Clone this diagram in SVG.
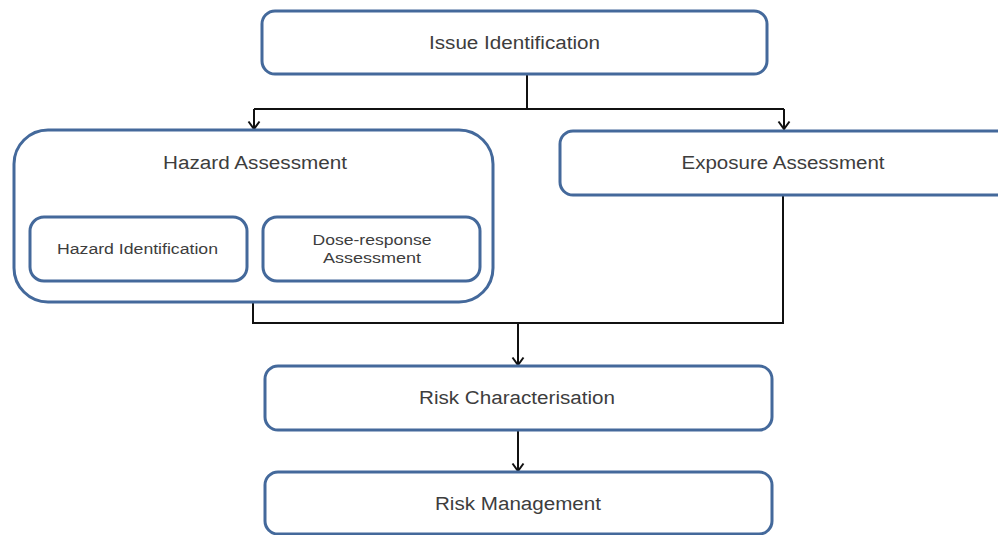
<svg xmlns="http://www.w3.org/2000/svg" width="998" height="535" viewBox="0 0 998 535">
  <defs>
    <style>
      .box { fill: #ffffff; stroke: #44699b; stroke-width: 3; }
      .lbl { font-family: "Liberation Sans", Arial, sans-serif; fill: #3d3d3d; text-anchor: middle; }
      .big { font-size: 18px; }
      .small { font-size: 15.5px; }
      .wire { fill: none; stroke: #111111; stroke-width: 2; }
    </style>
    <!-- open chevron arrowhead, drawn along the +x axis so orient="auto" turns it with the line -->
    <marker id="chev" markerUnits="userSpaceOnUse" markerWidth="12" markerHeight="14" viewBox="-10 -7 12 14" refX="0" refY="0" orient="auto" overflow="visible">
      <path d="M-7.5,-5.5 L0,0 L-7.5,5.5" fill="none" stroke="#111111" stroke-width="2"/>
    </marker>
  </defs>
  <rect width="998" height="535" fill="#ffffff"/>

  <!-- connectors -->
  <g id="connectors">
    <!-- issue identification splits into the two assessments -->
    <path class="wire" d="M527,74 V109"/>
    <path class="wire" d="M254,109 H784"/>
    <path class="wire" d="M254,109 V129" marker-end="url(#chev)"/>
    <path class="wire" d="M784,109 V129" marker-end="url(#chev)"/>
    <!-- inside hazard assessment -->
    <path class="wire" d="M252,175 V200"/>
    <path class="wire" d="M113,200 H381"/>
    <path class="wire" d="M113,200 V215" marker-end="url(#chev)"/>
    <path class="wire" d="M381,200 V215" marker-end="url(#chev)"/>
    <!-- both assessments merge into risk characterisation -->
    <path class="wire" d="M253,302 V323 H783 V195"/>
    <path class="wire" d="M518,323 V365" marker-end="url(#chev)"/>
    <path class="wire" d="M518,430 V471" marker-end="url(#chev)"/>
  </g>

  <g id="issue-identification">
    <rect class="box" x="262" y="11" width="505" height="63" rx="13"/>
    <text class="lbl big" x="514.5" y="49" textLength="171" lengthAdjust="spacingAndGlyphs">Issue Identification</text>
  </g>

  <g id="hazard-assessment">
    <rect class="box" x="14" y="130" width="479" height="172" rx="34"/>
    <text class="lbl big" x="255" y="169" textLength="184" lengthAdjust="spacingAndGlyphs">Hazard Assessment</text>
  </g>

  <g id="hazard-identification">
    <rect class="box" x="30" y="217" width="217" height="64" rx="14"/>
    <text class="lbl small" x="137.5" y="254" textLength="161" lengthAdjust="spacingAndGlyphs">Hazard Identification</text>
  </g>

  <g id="dose-response">
    <rect class="box" x="263" y="217" width="217" height="64" rx="14"/>
    <text class="lbl small" x="372" y="245" textLength="119" lengthAdjust="spacingAndGlyphs">Dose-response</text>
    <text class="lbl small" x="372" y="263" textLength="98" lengthAdjust="spacingAndGlyphs">Assessment</text>
  </g>

  <g id="exposure-assessment">
    <rect class="box" x="560" y="131" width="450" height="64" rx="13"/>
    <text class="lbl big" x="783" y="169" textLength="203" lengthAdjust="spacingAndGlyphs">Exposure Assessment</text>
  </g>

  <g id="risk-characterisation">
    <rect class="box" x="265" y="366" width="507" height="64" rx="13"/>
    <text class="lbl big" x="517" y="404" textLength="196" lengthAdjust="spacingAndGlyphs">Risk Characterisation</text>
  </g>

  <g id="risk-management">
    <rect class="box" x="265" y="472" width="507" height="62" rx="13"/>
    <text class="lbl big" x="518" y="510" textLength="166" lengthAdjust="spacingAndGlyphs">Risk Management</text>
  </g>
</svg>
